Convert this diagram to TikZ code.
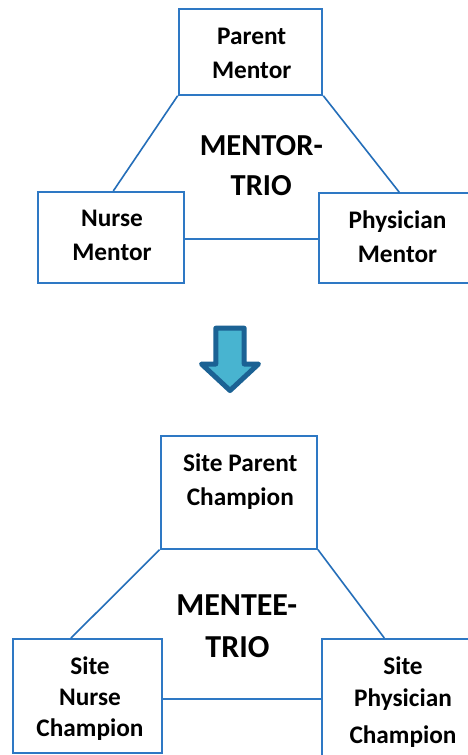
\documentclass[tikz,border=0pt]{standalone}
\usepackage{fontspec}
\setmainfont{Carlito}
\usetikzlibrary{calc}
\definecolor{boxblue}{RGB}{46,120,196}
\definecolor{lineblue}{RGB}{36,110,185}
\definecolor{arrowfill}{RGB}{72,180,208}
\definecolor{arrowedge}{RGB}{27,98,148}
\tikzset{
  box/.style={draw=boxblue, line width=2pt, rectangle, inner sep=0pt},
  conn/.style={draw=lineblue, line width=1.6pt},
  hconn/.style={draw=boxblue, line width=2.2pt},
  lbl/.style={anchor=base, inner sep=0pt, font=\fontsize{25.3}{30}\selectfont\bfseries},
  big/.style={anchor=base, inner sep=0pt, font=\fontsize{30.5}{36}\selectfont\bfseries},
  bigb/.style={anchor=base, inner sep=0pt, font=\fontsize{32}{38}\selectfont\bfseries}
}
\begin{document}
\begin{tikzpicture}[x=1pt,y=-1pt]
\clip (0,0) rectangle (468,755);
\fill[white] (0,0) rectangle (468,755);
% top trio boxes
\node[box, minimum width=143.6pt, minimum height=85.7pt] (pm) at (250.5,51.9) {};
\node[box, minimum width=145.4pt, minimum height=90.7pt] (nm) at (111,237.3) {};
\node[box, minimum width=157.6pt, minimum height=89.4pt] (ph) at (397.5,238) {};
% connectors
\draw[conn] (pm.south west) -- ($(nm.north)+(2.3,0)$);
\draw[conn] (pm.south east) -- ($(ph.north)+(1.8,0)$);
\draw[hconn] ($(nm.east)+(0,2)$) coordinate (h1) -- (h1 -| ph.west);
% labels
\node[lbl] (pm1) at (251.7,44.3) {Parent};
\node[lbl] (pm2) at (251.7,78.3) {Mentor};
\node[lbl] (nm1) at (112,226.7) {Nurse};
\node[lbl] (nm2) at (112,260) {Mentor};
\node[lbl] (ph1) at (397.5,228.3) {Physician};
\node[lbl] (ph2) at (397.5,262.3) {Mentor};
\node[big] (mt1) at (261.3,155.3) {MENTOR-};
\node[big] (mt2) at (261.2,195.7) {TRIO};
% arrow
\draw[arrowedge, fill=arrowfill, line width=5pt, line join=round]
  (215.8,328.2) -- (244.2,328.2) -- (244.2,364) -- (258.5,364) -- (230,390.5)
  -- (201.5,364) -- (215.8,364) -- cycle;
% bottom trio boxes
\node[box, minimum width=156.3pt, minimum height=112.7pt] (sp) at (238.8,492.3) {};
\node[box, minimum width=148.7pt, minimum height=113.7pt] (sn) at (87.7,695.9) {};
\node[box, minimum width=162pt, minimum height=129pt] (sy) at (403,703.5) {};
\draw[conn] (sp.south west) -- ($(sn.north)+(-16.7,0)$);
\draw[conn] (sp.south east) -- ($(sy.north)+(-18.7,0)$);
\draw[hconn] ($(sn.east)+(0,2.8)$) coordinate (h2) -- (h2 -| sy.west);
\node[lbl] (sp1) at (240.3,471.7) {Site Parent};
\node[lbl] (sp2) at (240.3,505) {Champion};
\node[lbl] (sn1) at (90,674) {Site};
\node[lbl] (sn2) at (90,705) {Nurse};
\node[lbl] (sn3) at (90,736.7) {Champion};
\node[lbl] (sy1) at (403,674.3) {Site};
\node[lbl] (sy2) at (403,706.7) {Physician};
\node[lbl] (sy3) at (403,743) {Champion};
\node[bigb] (me1) at (236.8,615) {MENTEE-};
\node[bigb] (me2) at (237.5,657.7) {TRIO};
\end{tikzpicture}
\end{document}
